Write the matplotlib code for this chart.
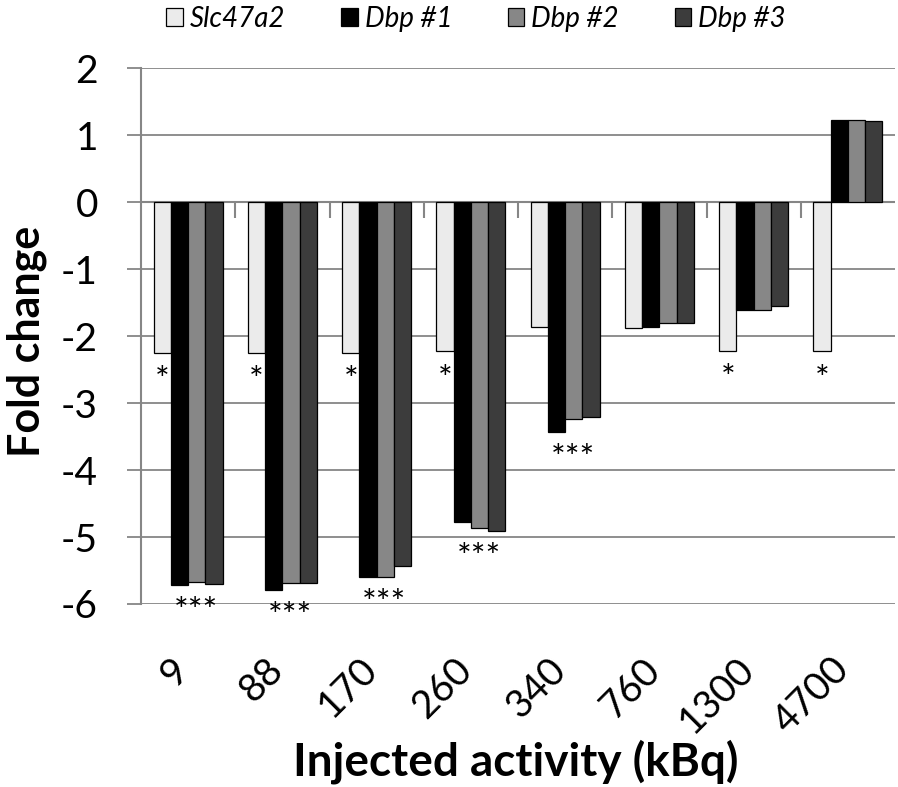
import numpy as np
import matplotlib
matplotlib.use("Agg")
import matplotlib.pyplot as plt
from matplotlib.transforms import ScaledTranslation

plt.rcParams['font.family'] = ['Lato', 'DejaVu Sans']
plt.rcParams['axes.unicode_minus'] = False

# data
doses = ["9", "88", "170", "260", "340", "760", "1300", "4700"]
slc47a2 = [-2.25, -2.25, -2.25, -2.23, -1.87, -1.88, -2.22, -2.23]
dbp1 = [-5.72, -5.79, -5.60, -4.77, -3.43, -1.87, -1.61, 1.22]
dbp2 = [-5.67, -5.69, -5.59, -4.87, -3.24, -1.80, -1.61, 1.22]
dbp3 = [-5.70, -5.69, -5.43, -4.91, -3.21, -1.80, -1.55, 1.21]
slc_sig = ["*", "*", "*", "*", "", "", "*", "*"]
dbp_sig = ["***", "***", "***", "***", "***", "", "", ""]

series = [("Slc47a2", slc47a2, "#ebebeb"),
          ("Dbp #1", dbp1, "#000000"),
          ("Dbp #2", dbp2, "#878787"),
          ("Dbp #3", dbp3, "#3c3c3c")]

fig = plt.figure(figsize=(8.98, 7.87), dpi=100)
ax = fig.add_axes([141/898, 1-604/787, 754/898, 536/787])

grid_c = "#868686"
x = np.arange(len(doses))
w = 0.183
handles = []
for k, (name, vals, col) in enumerate(series):
    b = ax.bar(x + (k - 1.5) * w, vals, w, color=col, edgecolor="black",
               linewidth=0.9, label=name, zorder=3)
    handles.append(b)

# significance marks
for i in range(len(doses)):
    if slc_sig[i]:
        ax.text(x[i] - 1.5 * w, slc47a2[i] - 0.42, slc_sig[i], ha="center",
                va="center", fontsize=25, zorder=4)
    if dbp_sig[i]:
        low = min(dbp1[i], dbp2[i], dbp3[i])
        ax.text(x[i] + 0.45 * w, low - 0.40, dbp_sig[i], ha="center",
                va="center", fontsize=25, zorder=4)

ax.set_xlim(-0.5, len(doses) - 0.5)
ax.set_ylim(-6, 2)
ax.set_yticks(range(-6, 3))
ax.yaxis.grid(True, color=grid_c, linewidth=1.3, zorder=0)
ax.set_axisbelow(True)

# zero axis line with category separators
ax.axhline(0, color=grid_c, linewidth=1.5, zorder=2)
ax.vlines(x[:-1] + 0.5, -0.24, 0, color=grid_c, linewidth=1.5, zorder=2)

for s in ["top", "right", "bottom"]:
    ax.spines[s].set_visible(False)
ax.spines["left"].set_color(grid_c)
ax.spines["left"].set_linewidth(1.5)

ax.tick_params(axis="y", length=10, width=1.3, color=grid_c, pad=21, labelsize=28)
ax.set_xticks(x)
ax.set_xticklabels(doses, rotation=45, ha="right", va="top", fontsize=28)
ax.tick_params(axis="x", length=0, pad=34)
for lab in ax.get_xticklabels():
    lab.set_transform(lab.get_transform() + ScaledTranslation(8/100, 0, fig.dpi_scale_trans))

ax.set_ylabel("Fold change", fontsize=31, fontweight="bold", va="center")
ax.yaxis.set_label_coords(-0.151, 0.49)
ax.set_xlabel("Injected activity (kBq)", fontsize=33, fontweight="bold", va="center")
ax.xaxis.set_label_coords(0.497, -0.295)

fig.legend(handles, [s[0] for s in series], ncol=4, loc="center",
           bbox_to_anchor=(476/898, 1 - 19/787), frameon=False,
           prop={"style": "italic", "size": 20}, handlelength=0.6,
           handleheight=0.6, handletextpad=0.25, columnspacing=2.0)

fig.savefig("out.png", dpi=100)
